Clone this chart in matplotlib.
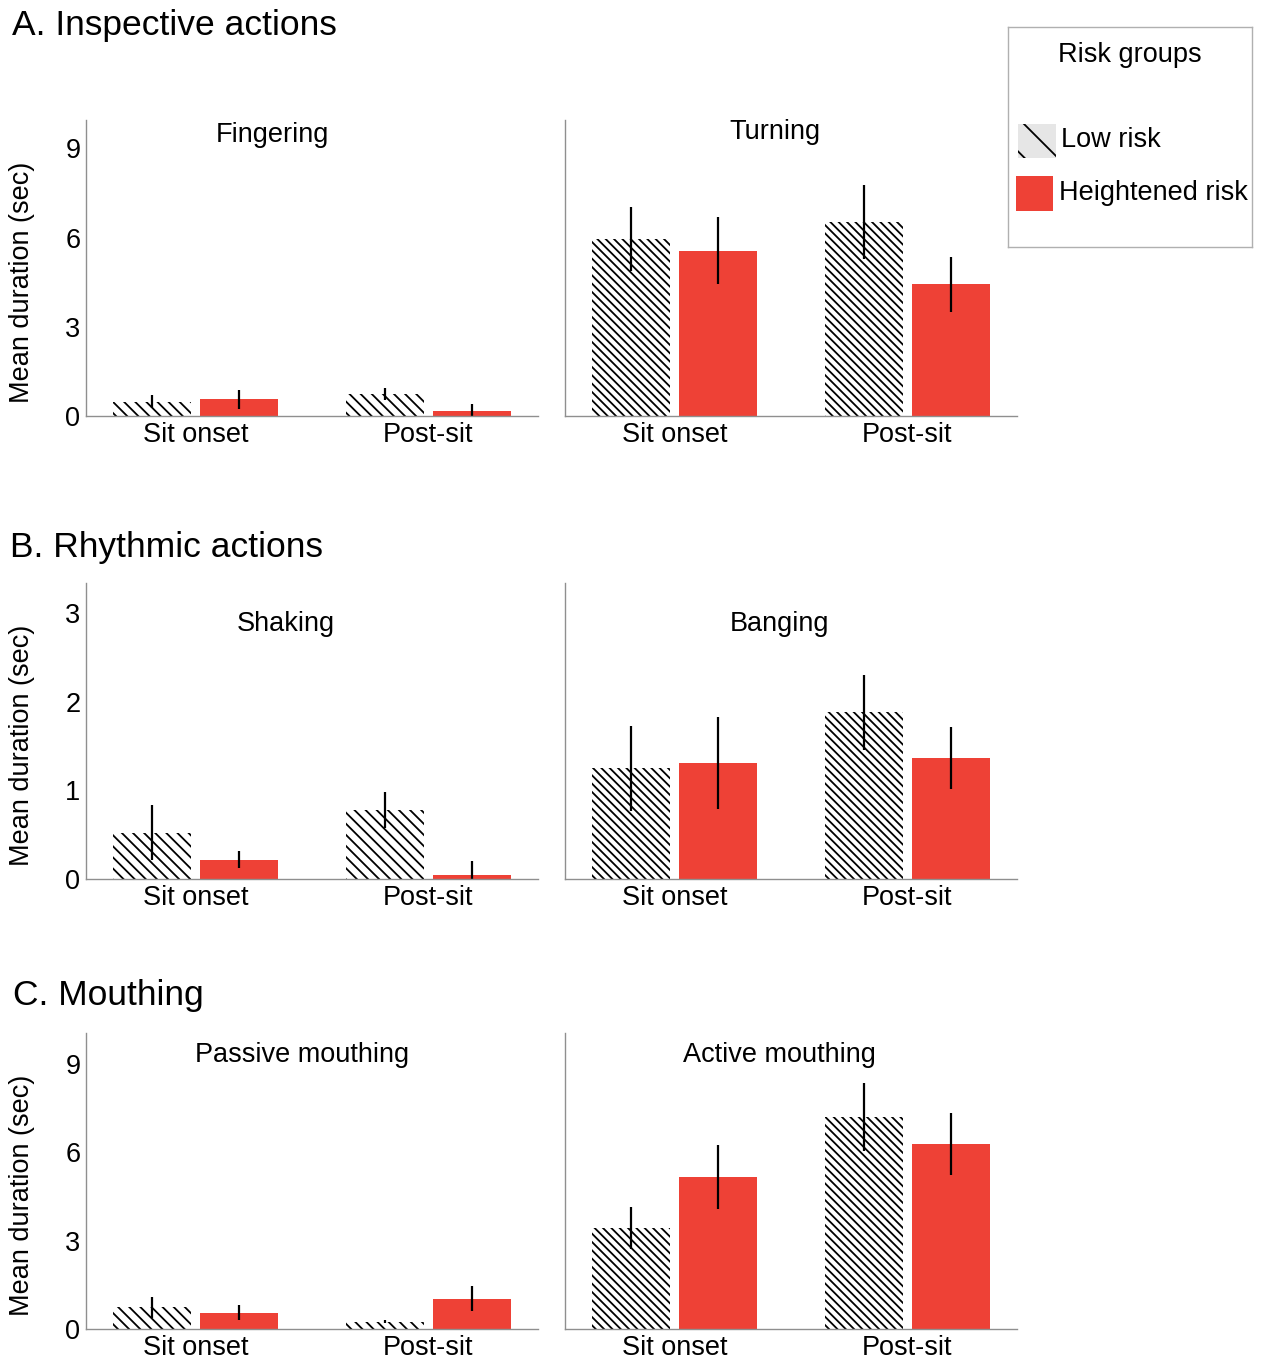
import numpy as np
import matplotlib
matplotlib.use('Agg')
import matplotlib.pyplot as plt
from matplotlib.patches import Rectangle

plt.rcParams['font.family'] = ['Liberation Sans', 'DejaVu Sans']
plt.rcParams['hatch.linewidth'] = 1.3

# Mean duration (sec) and standard errors per behaviour, [Sit onset, Post-sit]
conditions = ['Sit onset', 'Post-sit']

fingering_low = [0.48, 0.74]
fingering_low_se = [0.22, 0.20]
fingering_high = [0.57, 0.18]
fingering_high_se = [0.32, 0.22]

turning_low = [5.95, 6.51]
turning_low_se = [1.09, 1.24]
turning_high = [5.56, 4.43]
turning_high_se = [1.12, 0.93]

shaking_low = [0.52, 0.78]
shaking_low_se = [0.31, 0.20]
shaking_high = [0.22, 0.05]
shaking_high_se = [0.10, 0.15]

banging_low = [1.25, 1.88]
banging_low_se = [0.48, 0.42]
banging_high = [1.31, 1.37]
banging_high_se = [0.52, 0.35]

passive_low = [0.73, 0.24]
passive_low_se = [0.37, 0.05]
passive_high = [0.56, 1.03]
passive_high_se = [0.27, 0.43]

active_low = [3.43, 7.21]
active_low_se = [0.70, 1.15]
active_high = [5.16, 6.28]
active_high_se = [1.08, 1.06]

section_titles = ['A. Inspective actions', 'B. Rhythmic actions', 'C. Mouthing']
panel_titles = [['Fingering', 'Turning'], ['Shaking', 'Banging'],
                ['Passive mouthing', 'Active mouthing']]
y_ticks = [[0, 3, 6, 9], [0, 1, 2, 3], [0, 3, 6, 9]]
y_max = [9.95, 3.34, 10.05]

RED = '#ee4136'
SPINE = '#8f8f8f'
FS = 19.5
W, H = 1265, 1361


def fig_xy(x, y):
    # pixel position -> figure fraction
    return x / W, 1 - y / H


def draw_panel(ax, low, low_se, high, high_se, ymax, ticks, hatch, show_y):
    x = np.arange(len(conditions))
    off, width = 0.187, 0.335
    ax.bar(x - off, low, width, facecolor='white', edgecolor='black',
           linewidth=0, hatch=hatch)
    ax.bar(x + off, high, width, color=RED, linewidth=0)
    ax.errorbar(x - off, low, yerr=low_se, fmt='none', ecolor='black',
                elinewidth=1.6, capsize=0)
    ax.errorbar(x + off, high, yerr=high_se, fmt='none', ecolor='black',
                elinewidth=1.6, capsize=0)

    ax.set_xlim(-0.47, 1.47)
    ax.set_ylim(0, ymax)
    ax.set_xticks(x)
    ax.set_xticklabels(conditions, fontsize=FS)
    ax.set_yticks(ticks)
    if show_y:
        ax.set_yticklabels([str(t) for t in ticks], fontsize=FS)
        ax.set_ylabel('Mean duration (sec)', fontsize=FS)
        ax.yaxis.set_label_coords(-0.112, 0.45)
    else:
        ax.set_yticklabels([])
    ax.tick_params(length=0, pad=4)
    for side in ['top', 'right']:
        ax.spines[side].set_visible(False)
    for side in ['left', 'bottom']:
        ax.spines[side].set_color(SPINE)
        ax.spines[side].set_linewidth(1.0)


def draw_legend(fig):
    x0, y0 = fig_xy(1008, 247)
    x1, y1 = fig_xy(1252, 27)
    lax = fig.add_axes([x0, y0, x1 - x0, y1 - y0])
    # axes in pixel units, y growing downward like the page
    lax.set_xlim(1008, 1252)
    lax.set_ylim(247, 27)
    lax.set_xticks([])
    lax.set_yticks([])
    for s in lax.spines.values():
        s.set_color('#b0b0b0')
        s.set_linewidth(1.0)
    lax.text(1130, 55, 'Risk groups', fontsize=FS, ha='center', va='center')
    lax.add_patch(Rectangle((1018, 124), 38, 34, facecolor='#e6e6e6',
                            edgecolor='black', linewidth=0, hatch='\\'))
    lax.add_patch(Rectangle((1016, 176), 37, 35, facecolor=RED, linewidth=0))
    lax.text(1061, 140, 'Low risk', fontsize=FS, va='center')
    lax.text(1059, 193, 'Heightened risk', fontsize=FS, va='center')


if __name__ == "__main__":
    fig = plt.figure(figsize=(W / 100, H / 100), dpi=100)

    rows = [
        [(fingering_low, fingering_low_se, fingering_high, fingering_high_se),
         (turning_low, turning_low_se, turning_high, turning_high_se)],
        [(shaking_low, shaking_low_se, shaking_high, shaking_high_se),
         (banging_low, banging_low_se, banging_high, banging_high_se)],
        [(passive_low, passive_low_se, passive_high, passive_high_se),
         (active_low, active_low_se, active_high, active_high_se)],
    ]

    # pixel layout: axes top/bottom per row, axes left edges, title anchors
    row_top = [120, 583, 1033]
    row_bottom = [416, 879, 1329]
    col_left = [86, 565]
    ax_width = 452
    heading_xy = [(12, 25), (10, 548), (13, 995)]
    title_xy = [[(272, 135), (775, 132)], [(286, 624), (780, 624)],
                [(302, 1055), (779, 1055)]]
    hatches = ['\\\\\\', '\\\\\\\\']

    for r in range(3):
        hx, hy = fig_xy(*heading_xy[r])
        fig.text(hx, hy, section_titles[r], fontsize=25.5, va='center', ha='left')
        for c in range(2):
            left, bottom = fig_xy(col_left[c], row_bottom[r])
            height = (row_bottom[r] - row_top[r]) / H
            ax = fig.add_axes([left, bottom, ax_width / W, height])
            low, low_se, high, high_se = rows[r][c]
            draw_panel(ax, low, low_se, high, high_se, y_max[r], y_ticks[r],
                       hatches[c], show_y=(c == 0))
            tx, ty = fig_xy(*title_xy[r][c])
            fig.text(tx, ty, panel_titles[r][c], fontsize=FS, ha='center', va='center')

    draw_legend(fig)

    fig.savefig('out.png', dpi=100)
